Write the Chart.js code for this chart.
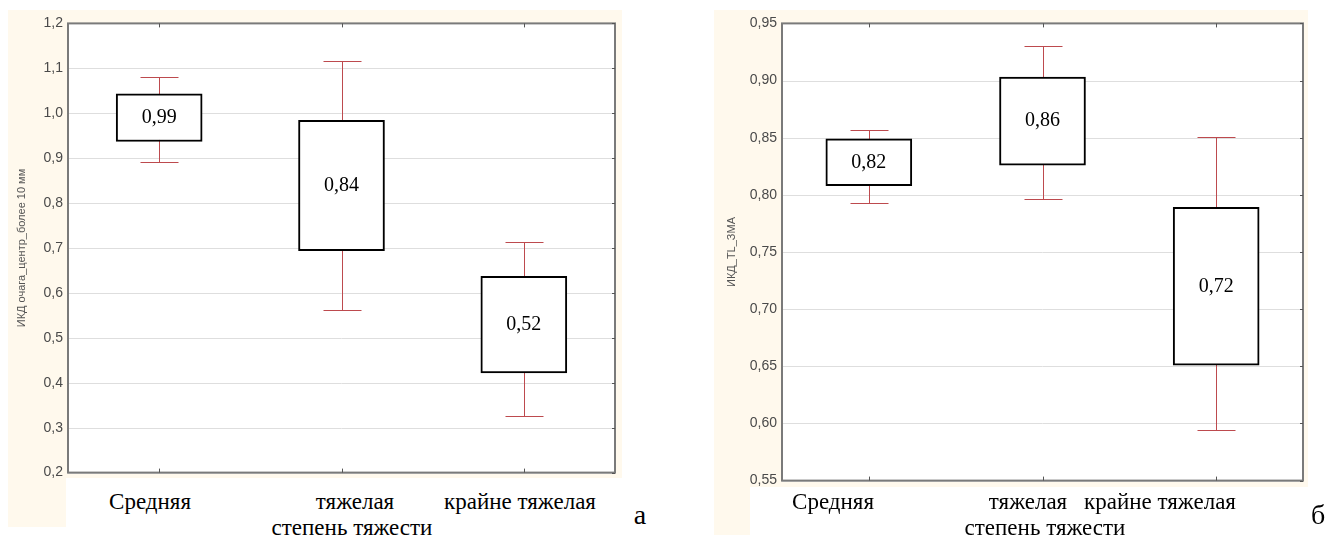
<!DOCTYPE html>
<html>
<head>
<meta charset="utf-8">
<script src="https://cdn.jsdelivr.net/npm/chart.js@4"></script>
<style>
  body { margin: 0; background: #fff; width: 1328px; height: 537px; position: relative; overflow: hidden; }
  .cream { position: absolute; background: rgb(255, 249, 237); }
  canvas { position: absolute; }
  .lbl { position: absolute; font-family: "Liberation Serif", "Times New Roman", serif; font-size: 23px; color: #000; white-space: nowrap; transform: translate(-50%, -50%); line-height: 1; }
  .letter { font-size: 28px; }
</style>
</head>
<body>
<div class="cream" style="left:8px;top:10px;width:614px;height:468px"></div>
<div class="cream" style="left:8px;top:478px;width:58px;height:49px"></div>
<div class="cream" style="left:714px;top:10px;width:594px;height:477px"></div>
<div class="cream" style="left:714px;top:487px;width:36px;height:48px"></div>

<canvas id="chartA" width="614" height="476" style="left:8px;top:10px"></canvas>
<canvas id="chartB" width="594" height="484" style="left:714px;top:10px"></canvas>

<script>
// categories and axis texts
var categories = ['Средняя', 'тяжелая', 'крайне тяжелая'];
var xTitle = 'степень тяжести';
var yTitleA = 'ИКД очага_центр_более 10 мм';
var yTitleB = 'ИКД_TL_ЗМА';

// panel а
var whiskerLowA = [0.892, 0.562, 0.326];
var boxLowA = [0.937, 0.694, 0.422];
var boxHighA = [1.043, 0.984, 0.637];
var whiskerHighA = [1.080, 1.117, 0.713];
var labelA = [0.99, 0.84, 0.52];
var yMinA = 0.2, yMaxA = 1.2, yStepA = 0.1;

// panel б
var whiskerLowB = [0.793, 0.796, 0.594];
var boxLowB = [0.808, 0.826, 0.651];
var boxHighB = [0.849, 0.903, 0.789];
var whiskerHighB = [0.857, 0.930, 0.851];
var labelB = [0.82, 0.86, 0.72];
var yMinB = 0.55, yMaxB = 0.95, yStepB = 0.05;

function comma(v, d) { return v.toFixed(d).replace('.', ','); }

function makeChart(id, opt) {
	var boxPlugin = {
		id: 'boxes',
		beforeDatasetsDraw: function(chart) {
			var ctx = chart.ctx, a = chart.chartArea;
			var x = chart.scales.x, y = chart.scales.y;
			ctx.save();
			ctx.fillStyle = '#fff';
			ctx.fillRect(a.left, a.top, a.right - a.left, a.bottom - a.top);
			// grid again over the white
			ctx.strokeStyle = '#dedede';
			ctx.lineWidth = 1;
			y.ticks.forEach(function(t) {
				var py = Math.round(y.getPixelForValue(t.value)) + 0.5;
				ctx.beginPath(); ctx.moveTo(a.left, py); ctx.lineTo(a.right, py); ctx.stroke();
			});
			// whiskers
			ctx.strokeStyle = '#bd4a4e';
			for (var i = 0; i < categories.length; i++) {
				var px = Math.round(x.getPixelForValue(i)) + 0.5;
				var lo = Math.round(y.getPixelForValue(opt.wLow[i])) + 0.5;
				var hi = Math.round(y.getPixelForValue(opt.wHigh[i])) + 0.5;
				ctx.beginPath();
				ctx.moveTo(px, lo); ctx.lineTo(px, hi);
				ctx.moveTo(px - 19, lo); ctx.lineTo(px + 19, lo);
				ctx.moveTo(px - 19, hi); ctx.lineTo(px + 19, hi);
				ctx.stroke();
			}
			ctx.restore();
		},
		afterDatasetsDraw: function(chart) {
			var ctx = chart.ctx, a = chart.chartArea;
			var x = chart.scales.x, y = chart.scales.y;
			ctx.save();
			ctx.fillStyle = '#000';
			ctx.font = '20px "Liberation Serif", serif';
			ctx.textAlign = 'center';
			ctx.textBaseline = 'middle';
			for (var i = 0; i < categories.length; i++) {
				var px = x.getPixelForValue(i);
				var py = y.getPixelForValue((opt.bLow[i] + opt.bHigh[i]) / 2);
				ctx.fillText(comma(opt.labels[i], 2), px, py);
			}
			// frame
			ctx.strokeStyle = '#7a7a7a';
			ctx.lineWidth = 2;
			ctx.strokeRect(a.left, a.top, a.right - a.left, a.bottom - a.top);
			ctx.lineWidth = 1;
			ctx.strokeStyle = '#555';
			ctx.beginPath();
			for (var j = 0; j < categories.length; j++) {
				var tx = Math.round(x.getPixelForValue(j)) + 0.5;
				ctx.moveTo(tx, a.top); ctx.lineTo(tx, a.top + 4);
				ctx.moveTo(tx, a.bottom); ctx.lineTo(tx, a.bottom - 4);
			}
			y.ticks.forEach(function(t) {
				var py = Math.round(y.getPixelForValue(t.value)) + 0.5;
				ctx.moveTo(a.right, py); ctx.lineTo(a.right - 3, py);
			});
			ctx.stroke();
			ctx.restore();
		}
	};

	return new Chart(document.getElementById(id), {
		type: 'bar',
		data: {
			labels: categories,
			datasets: [{
				data: categories.map(function(c, i) { return [opt.bLow[i], opt.bHigh[i]]; }),
				backgroundColor: '#fff',
				borderColor: '#000',
				borderWidth: 2,
				borderSkipped: false,
				barThickness: 86
			}]
		},
		options: {
			responsive: false,
			animation: false,
			devicePixelRatio: 1,
			layout: { padding: opt.padding },
			plugins: { legend: { display: false }, tooltip: { enabled: false } },
			scales: {
				x: { display: false, offset: true },
				y: {
					min: opt.min, max: opt.max,
					afterFit: function(s) { s.width = opt.axisWidth; },
					ticks: {
						stepSize: opt.step,
						padding: 5,
						color: '#4a4a4a',
						font: { family: '"Liberation Sans", Arial, sans-serif', size: 14 },
						callback: function(v) { return comma(v, opt.decimals); }
					},
					grid: { color: '#dedede', drawTicks: false },
					border: { display: false },
					title: {
						display: true,
						text: opt.title,
						color: '#555',
						padding: { top: opt.titlePad, bottom: 0 },
						font: { family: '"Liberation Sans", Arial, sans-serif', size: 11 }
					}
				}
			}
		},
		plugins: [boxPlugin]
	});
}

makeChart('chartA', {
	wLow: whiskerLowA, wHigh: whiskerHighA, bLow: boxLowA, bHigh: boxHighA, labels: labelA,
	min: yMinA, max: yMaxA, step: yStepA, decimals: 1, title: yTitleA, titlePad: 7,
	axisWidth: 60, padding: { top: 12, right: 7, bottom: 0, left: 0 }
});
makeChart('chartB', {
	wLow: whiskerLowB, wHigh: whiskerHighB, bLow: boxLowB, bHigh: boxHighB, labels: labelB,
	min: yMinB, max: yMaxB, step: yStepB, decimals: 2, title: yTitleB, titlePad: 11,
	axisWidth: 68, padding: { top: 9, right: 5, bottom: 2, left: 0 }
});

// category labels under the plots (placed like the source image)
var labelPos = [
	[[150, 501], [355, 501], [520, 501], [352, 527], [640, 515]],
	[[833, 501], [1028, 501], [1160, 501], [1045, 527], [1318, 515]]
];
var letters = ['а', 'б'];
labelPos.forEach(function(p, k) {
	var texts = categories.concat([xTitle, letters[k]]);
	texts.forEach(function(t, i) {
		var d = document.createElement('div');
		d.className = 'lbl' + (i === 4 ? ' letter' : '');
		d.textContent = t;
		d.style.left = p[i][0] + 'px';
		d.style.top = p[i][1] + 'px';
		document.body.appendChild(d);
	});
});
</script>
</body>
</html>
